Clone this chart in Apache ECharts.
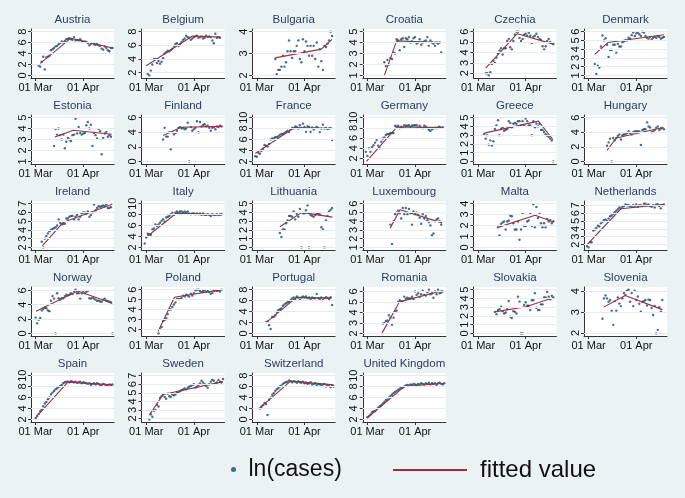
<!DOCTYPE html>
<html><head><meta charset="utf-8">
<script src="https://cdn.jsdelivr.net/npm/echarts@6/dist/echarts.min.js"></script>
<style>html,body{margin:0;padding:0;background:#eaf2f3}#c{width:685px;height:498px}</style>
</head><body><div id="c"></div>
<script>
// x axis: days since 01 Mar
const xTickVals = [0, 31];
const xTickLabels = ['01 Mar', '01 Apr'];

const countries = ['Austria','Belgium','Bulgaria','Croatia','Czechia','Denmark',
 'Estonia','Finland','France','Germany','Greece','Hungary',
 'Ireland','Italy','Lithuania','Luxembourg','Malta','Netherlands',
 'Norway','Poland','Portugal','Romania','Slovakia','Slovenia',
 'Spain','Sweden','Switzerland','United Kingdom'];

const austriaStart = 2;
const austriaVals = [1.8,1.6,2.5,3.4,1.1,3.3,3.4,3.6,4.6,4.8,5.0,5.3,5.4,5.7,5.9,6.2,6.0,6.3,6.6,6.7,6.8,6.6,6.5,7.0,6.4,6.5,6.4,6.6,6.3,6.1,6.2,6.1,5.9,5.5,5.8,5.9,5.7,5.6,5.7,5.5,5.4,4.9,4.7,5.3,5.0,4.6,4.4,5.0,5.0];
const austriaFit = [[3,2.2],[23,6.8],[50,5.0]];
const austriaTicks = [0,2,4,6,8];

const belgiumStart = 1;
const belgiumVals = [1.8,1.6,2.3,3.2,4.0,4.0,3.4,3.7,3.3,3.6,4.1,4.8,5.0,5.2,5.1,5.3,5.5,5.9,6.2,6.3,5.9,6.2,6.5,6.8,7.0,7.4,7.2,7.1,6.8,7.0,7.2,7.3,7.4,7.1,7.2,7.3,7.0,7.1,7.4,7.2,7.3,7.2,6.7,6.3,7.7,7.1,7.2,7.1];
const belgiumFit = [[0,3.0],[30,7.35],[48,7.2]];
const belgiumTicks = [2,4,6,8];

const bulgariaStart = 12;
const bulgariaVals = [2.75,2.05,2.25,2.25,2.4,2.9,2.4,2.6,3.1,3.6,3.1,2.8,3.1,3.1,3.35,3.6,2.75,2.6,3.65,3.1,3.55,3.35,2.9,3.35,2.9,3.35,2.75,3.5,2.4,3.2,2.65,2.25,3.35,3.3,3.45,3.6,4.0,3.8];
const bulgariaFit = [[12,2.8],[42,3.2],[49,3.65]];
const bulgariaTicks = [2,3,4];

const croatiaStart = 11;
const croatiaVals = [2.2,1.85,2.4,2.0,2.6,2.5,3.1,3.0,4.3,4.2,3.3,4.3,4.4,3.6,4.4,4.3,4.5,4.0,4.1,4.4,4.5,3.9,4.0,4.3,3.8,4.0,4.1,4.2,4.5,3.7,4.2,4.0,3.9,3.7,4.0,3.9,4.0,3.1];
const croatiaFit = [[11,1.0],[19,4.15],[48,4.0]];
const croatiaTicks = [1,2,3,4,5];

const czechiaStart = 5;
const czechiaVals = [2.0,2.0,1.8,2.1,2.9,3.2,3.0,3.5,3.9,4.2,4.4,3.8,4.4,4.4,5.1,5.3,4.5,4.3,5.1,5.7,6.0,6.0,5.4,5.1,5.3,5.7,5.8,5.6,5.9,5.6,4.9,5.5,5.6,5.8,5.5,5.3,5.2,4.6,4.3,4.6,5.1,5.3,5.0,4.9,4.8];
const czechiaFit = [[5,2.5],[25.5,5.8],[49,4.8]];
const czechiaTicks = [2,3,4,5,6];

const denmarkStart = 4;
const denmarkVals = [2.3,1.15,2.1,1.9,4.3,5.55,5.0,5.25,4.5,3.1,3.9,3.9,4.5,4.5,3.6,4.6,4.3,4.3,4.8,4.9,5.0,5.0,5.3,5.2,5.6,5.9,5.5,5.8,5.9,5.7,5.5,6.0,5.9,5.5,5.3,5.2,5.4,5.1,5.3,5.4,5.3,5.5,5.4,5.2,5.3,5.4];
const denmarkFit = [[4,3.4],[12.5,4.75],[49,5.65]];
const denmarkTicks = [1,2,3,4,5,6];

const estoniaStart = 12;
const estoniaVals = [2.4,3.95,3.45,4.0,3.4,3.0,3.45,2.2,2.8,3.15,3.0,2.85,3.4,3.45,4.9,3.55,4.15,3.6,3.45,3.55,3.6,4.3,4.6,4.0,4.35,2.4,3.6,3.4,3.1,3.95,3.75,1.65,3.15,3.55,3.7,3.25,3.4,3.25];
const estoniaFit = [[12.5,3.23],[24.5,3.85],[49.5,3.48]];
const estoniaTicks = [1,2,3,4,5];

const finlandStart = 11;
const finlandVals = [3.0,4.6,3.4,3.4,4.0,1.65,4.0,3.7,3.9,4.2,4.6,4.7,4.5,4.6,4.4,4.5,5.3,0,4.7,4.2,4.4,4.6,5.5,4.0,5.4,4.8,5.0,5.1,4.8,4.9,4.6,4.2,4.6,4.7,4.4,4.8,4.7,4.9,4.8];
const finlandFit = [[11,3.55],[22.7,4.67],[49.5,4.8]];
const finlandTicks = [0,2,4,6];

const franceStart = -1;
const franceVals = [2.95,2.85,3.6,3.4,3.9,4.3,5.0,4.85,4.7,5.2,6.0,6.2,6.2,6.4,6.4,6.6,6.85,7.0,7.0,7.2,7.4,7.6,7.35,7.85,8.1,8.0,8.4,8.3,8.0,8.6,8.1,8.9,8.3,7.4,8.4,8.3,7.4,8.2,7.85,8.1,8.3,8.1,7.35,8.0,8.7,8.0,8.1,7.9,8.0,8.1,5.9];
const franceFit = [[-1,3.45],[24.5,8.2],[49,8.0]];
const franceTicks = [2,4,6,8,10];

const germanyStart = -1;
const germanyVals = [3.3,2.5,4.0,3.3,4.2,4.6,5.1,5.6,4.5,4.0,5.3,5.9,6.1,6.6,6.8,6.8,7.0,7.0,7.0,8.4,8.2,8.4,7.9,8.2,8.05,8.5,8.4,8.4,8.5,8.2,8.4,8.5,8.5,8.5,8.05,8.4,8.05,7.9,8.4,8.2,7.9,7.6,7.4,7.7,7.9,8.05,7.9,8.1,8.2,8.0,8.1];
const germanyFit = [[-0.6,1.43],[19.3,8.18],[48.6,8.05]];
const germanyTicks = [2,4,6,8,10];

const greeceStart = 4;
const greeceVals = [3.1,2.6,3.0,1.9,2.4,1.8,2.3,3.7,4.1,4.7,3.0,3.7,3.9,3.5,3.6,3.7,4.6,4.4,3.9,4.3,4.4,4.3,4.6,4.6,4.1,4.6,4.1,4.9,4.6,4.1,4.1,3.0,4.6,3.9,4.3,4.0,4.3,3.6,3.6,3.35,3.1,2.95,2.8,2.6,2.4,0];
const greeceFit = [[4,3.23],[39.3,4.6],[48.7,2.5]];
const greeceTicks = [0,1,2,3,4,5];

const hungaryStart = 12;
const hungaryVals = [2.15,2.6,3.1,0,3.2,2.9,3.2,3.5,3.7,3.0,3.6,3.7,3.7,3.9,4.15,3.9,3.7,4.0,4.1,4.15,4.1,4.1,2.25,4.3,4.4,4.4,5.35,4.8,4.65,4.0,4.1,4.3,4.6,4.8,4.3,4.5,4.6,4.4];
const hungaryFit = [[12,1.5],[18,3.2],[48.5,4.65]];
const hungaryTicks = [0,2,4,6];

const irelandStart = 4;
const irelandVals = [2.64,2.0,3.0,3.3,3.6,3.84,4.0,4.1,4.2,4.3,4.5,5.2,4.8,4.64,4.7,4.7,5.3,5.3,5.5,5.6,5.6,5.2,5.5,5.7,5.2,5.5,5.9,6.0,6.0,5.84,6.1,5.5,5.7,6.0,6.9,6.24,6.5,6.7,6.64,6.7,6.8,6.7,6.9,6.5,6.5,6.6];
const irelandFit = [[4.5,2.2],[17.8,4.84],[49.9,6.92]];
const irelandTicks = [2,3,4,5,6,7];

const italyStart = -1;
const italyVals = [2.7,3.8,4.5,4.4,4.3,5.3,5.45,6.2,5.9,6.2,6.5,6.85,7.15,6.7,7.45,7.6,7.75,8.06,8.36,7.94,8.36,8.55,8.36,8.55,8.55,8.36,8.55,8.36,8.55,8.2,8.06,8.2,8.2,8.06,8.2,8.06,8.2,7.94,8.2,7.94,7.94,8.06,7.94,7.75,8.06,7.94,7.94,8.06,7.9,8.0,8.1];
const italyFit = [[-0.2,3.8],[19.5,8.24],[49.5,7.94]];
const italyTicks = [2,4,6,8,10];

const lithuaniaStart = 15;
const lithuaniaVals = [1.65,1.2,2.05,2.05,2.75,3.07,3.6,3.6,3.5,4.1,3.2,3.85,3.5,4.4,0,3.9,3.9,4.25,4.8,0,3.7,3.6,3.5,3.7,3.85,3.9,3.75,2.3,2.05,0,3.07,3.6,4.1,4.3,4.5];
const lithuaniaFit = [[15,2.36],[29.3,4.0],[49.2,3.46]];
const lithuaniaTicks = [0,1,2,3,4,5];

const luxembourgStart = 15;
const luxembourgVals = [3.6,1.4,4.0,4.8,5.0,5.2,4.9,4.3,5.5,4.8,5.5,4.8,5.4,4.9,3.6,5.1,4.8,5.0,4.7,4.4,3.7,4.8,4.3,4.6,4.1,3.9,3.5,2.4,2.6,4.0,4.2,4.3,4.0,3.6];
const luxembourgFit = [[14.8,3.2],[21.2,5.3],[48.6,3.8]];
const luxembourgTicks = [1,2,3,4,5,6];

const maltaStart = 13;
const maltaVals = [1.83,1.1,2.15,2.27,2.36,1.64,2.36,2.46,2.9,2.84,2.2,1.64,1.64,2.36,0.7,1.64,3.06,1.95,1.95,2.36,2.46,3.06,1.95,3.94,1.83,3.7,2.68,3.06,2.2,1.83,2.2,1.83,2.6,2.36,2.5,2.2,2.4];
const maltaFit = [[13,1.83],[37.2,2.93],[49.4,2.3]];
const maltaTicks = [0,1,2,3,4];

const netherlandsStart = -1;
const netherlandsVals = [1.8,1.65,2.3,2.3,3.8,3.9,4.1,4.4,4.3,4.7,4.9,5.1,5.2,5.0,5.3,5.6,5.7,5.9,6.1,6.3,6.5,6.7,6.6,6.8,6.9,7.1,7.0,7.0,6.9,6.8,7.0,6.9,7.1,6.8,7.0,7.0,6.9,7.2,7.2,7.0,7.1,6.9,6.8,7.0,6.7,7.1,7.1,6.9,6.6,7.0,7.1];
const netherlandsFit = [[-1,2.0],[21,6.55],[49,7.1]];
const netherlandsTicks = [2,3,4,5,6,7];

const norwayStart = 0;
const norwayVals = [2.2,1.4,1.9,2.15,3.2,3.4,3.6,3.5,3.2,3.1,4.55,5.2,4.85,0,5.6,4.9,4.7,4.9,4.9,5.2,5.4,5.3,5.4,5.6,5.5,5.9,6.1,5.6,5.6,4.85,5.6,5.9,5.6,5.8,5.9,4.9,4.85,5.0,4.85,4.7,4.55,4.55,4.45,4.4,4.7,4.85,4.6,4.5,4.4,4.3,0];
const norwayFit = [[0.2,3.1],[27.4,5.9],[49.9,4.2]];
const norwayTicks = [0,2,4,6];

const polandStart = 8;
const polandVals = [1.6,2.07,2.25,2.84,2.95,3.12,3.54,4.0,4.0,4.25,4.5,4.7,5.05,5.05,5.05,5.16,5.4,5.3,5.5,5.4,5.3,5.58,5.4,5.65,5.93,6.0,6.0,5.86,5.75,5.86,5.93,5.75,5.86,5.75,5.58,5.65,5.86,5.93,5.86,5.9,5.8,6.0];
const polandFit = [[7.7,1.8],[18.4,5.23],[49,6.0]];
const polandTicks = [2,3,4,5,6];

const portugalStart = 6;
const portugalVals = [2.06,2.2,1.5,0.8,3.0,3.0,3.3,3.9,4.25,4.4,4.56,5.06,5.3,5.5,5.7,5.8,6.1,6.4,6.56,6.3,6.75,6.56,6.1,6.56,6.75,6.56,6.75,6.44,6.56,6.3,6.56,6.44,6.44,7.2,6.44,6.3,6.56,6.1,6.44,6.6,6.5,6.3,6.6,5.2];
const portugalFit = [[6.4,2.06],[25.7,6.56],[48.6,6.44]];
const portugalTicks = [0,2,4,6,8];

const romaniaStart = 10;
const romaniaVals = [2.93,3.0,3.17,3.23,3.73,3.5,2.83,3.5,4.07,4.17,5.0,5.17,5.07,5.0,5.5,5.27,5.4,5.33,5.33,5.5,5.27,6.0,5.67,5.83,5.5,5.73,6.07,5.67,5.6,5.93,6.17,5.73,5.83,5.4,6.0,5.73,6.17,5.83,5.9,6.0];
const romaniaFit = [[9.4,2.0],[20.8,5.0],[48.6,6.07]];
const romaniaTicks = [2,3,4,5,6];

const slovakiaStart = 11;
const slovakiaVals = [2.46,2.2,2.66,2.77,3.05,2.54,2.27,2.38,2.77,3.7,1.9,1.76,2.54,2.46,2.27,4.2,3.63,0,0,3.24,3.55,3.16,3.16,2.66,3.8,3.8,4.6,2.93,2.66,2.66,3.32,3.32,4.1,4.1,4.73,4.2,3.9,4.3,4.1];
const slovakiaFit = [[10.8,2.46],[31.2,3.05],[49.4,4.1]];
const slovakiaTicks = [0,1,2,3,4,5];

const sloveniaStart = 9;
const sloveniaVals = [2.68,3.66,3.8,3.66,3.5,3.58,3.07,2.39,3.53,3.07,3.7,3.41,3.29,3.66,3.92,3.83,4.03,4.08,3.5,3.92,3.29,4.03,3.58,3.75,3.4,3.02,3.5,3.53,3.58,3.32,3.6,3.58,3.2,2.86,3.3,1.98,2.15,3.24,3.02,3.58];
const sloveniaFit = [[9.8,3.24],[23.8,3.8],[48,3.12]];
const sloveniaTicks = [2,3,4];

const spainStart = 0;
const spainVals = [2.2,2.6,3.0,3.5,3.8,4.4,4.9,5.2,5.7,6.0,6.6,6.9,7.2,7.5,7.7,7.9,8.1,8.3,8.6,8.8,8.9,8.9,8.8,9.0,8.9,8.8,8.9,8.7,8.8,8.9,8.6,8.8,8.7,8.6,8.5,8.6,8.3,8.5,8.6,8.4,8.6,8.5,8.2,8.3,8.5,8.4,8.3,8.1,8.4,8.3,8.4];
const spainFit = [[0,2.3],[21,8.8],[50,8.3]];
const spainTicks = [2,4,6,8,10];

const swedenStart = 2;
const swedenVals = [1.9,2.5,2.2,2.9,3.0,3.6,3.4,4.4,4.6,4.8,4.5,4.3,4.9,4.6,4.5,4.8,4.7,4.8,5.1,5.0,5.2,5.3,5.4,5.5,5.4,5.6,5.7,5.8,5.9,6.0,5.6,5.7,5.9,6.1,6.4,6.2,6.0,5.8,5.6,6.0,6.3,6.5,6.4,6.1,6.2,6.5,6.3,6.2,6.6];
const swedenFit = [[2,2.4],[11,4.8],[50,6.3]];
const swedenTicks = [2,3,4,5,6,7];

const switzerlandStart = 2;
const switzerlandVals = [2.0,2.3,2.6,3.0,2.8,0.8,3.6,4.0,4.5,4.8,5.2,5.5,5.7,6.0,6.2,6.5,6.7,6.8,6.9,7.1,7.0,6.8,7.0,6.9,6.7,7.0,6.8,6.7,6.9,6.6,6.7,6.5,6.6,6.8,6.4,6.5,6.6,6.3,6.5,6.4,6.2,6.4,6.5,6.0,6.3,6.1,5.9,6.2,6.0];
const switzerlandFit = [[2,2.1],[22,7.0],[50,6.3]];
const switzerlandTicks = [0,2,4,6,8];

const ukStart = 0;
const ukVals = [2.4,2.6,2.9,3.3,3.5,3.5,3.9,4.1,4.4,4.6,4.9,5.2,5.5,5.6,6.0,6.3,6.5,6.8,7.0,7.2,7.4,7.6,7.8,7.8,8.0,8.2,8.3,8.2,8.4,8.3,8.5,8.4,8.3,8.5,8.4,8.6,8.5,8.4,8.6,8.5,8.7,8.4,8.6,8.5,8.6,8.3,8.6,8.7,8.5,8.4,8.6];
const ukFit = [[0,2.3],[24,8.0],[50,8.6]];
const ukTicks = [2,4,6,8,10];

const table = [
 [austriaStart,austriaVals,austriaFit,austriaTicks],
 [belgiumStart,belgiumVals,belgiumFit,belgiumTicks],
 [bulgariaStart,bulgariaVals,bulgariaFit,bulgariaTicks],
 [croatiaStart,croatiaVals,croatiaFit,croatiaTicks],
 [czechiaStart,czechiaVals,czechiaFit,czechiaTicks],
 [denmarkStart,denmarkVals,denmarkFit,denmarkTicks],
 [estoniaStart,estoniaVals,estoniaFit,estoniaTicks],
 [finlandStart,finlandVals,finlandFit,finlandTicks],
 [franceStart,franceVals,franceFit,franceTicks],
 [germanyStart,germanyVals,germanyFit,germanyTicks],
 [greeceStart,greeceVals,greeceFit,greeceTicks],
 [hungaryStart,hungaryVals,hungaryFit,hungaryTicks],
 [irelandStart,irelandVals,irelandFit,irelandTicks],
 [italyStart,italyVals,italyFit,italyTicks],
 [lithuaniaStart,lithuaniaVals,lithuaniaFit,lithuaniaTicks],
 [luxembourgStart,luxembourgVals,luxembourgFit,luxembourgTicks],
 [maltaStart,maltaVals,maltaFit,maltaTicks],
 [netherlandsStart,netherlandsVals,netherlandsFit,netherlandsTicks],
 [norwayStart,norwayVals,norwayFit,norwayTicks],
 [polandStart,polandVals,polandFit,polandTicks],
 [portugalStart,portugalVals,portugalFit,portugalTicks],
 [romaniaStart,romaniaVals,romaniaFit,romaniaTicks],
 [slovakiaStart,slovakiaVals,slovakiaFit,slovakiaTicks],
 [sloveniaStart,sloveniaVals,sloveniaFit,sloveniaTicks],
 [spainStart,spainVals,spainFit,spainTicks],
 [swedenStart,swedenVals,swedenFit,swedenTicks],
 [switzerlandStart,switzerlandVals,switzerlandFit,switzerlandTicks],
 [ukStart,ukVals,ukFit,ukTicks]
];

// layout
const COLS = 6, LEFT0 = 31, PITCHX = 110.6, PW = 83, TOP0 = 29, PITCHY = 86, PH = 49;
const FONT = 'Liberation Sans';
const NAVY = '#1a476f', MAROON = '#90353b', AXIS = '#333333', GRIDC = '#e4ecee';

const grids = [], xAxes = [], yAxes = [], series = [], titles = [];
countries.forEach((name, i) => {
  const [start, vals, fit, ticks] = table[i];
  const c = i % COLS, r = Math.floor(i / COLS);
  const left = LEFT0 + c * PITCHX, top = TOP0 + r * PITCHY;
  grids.push({left: left, top: top, width: PW, height: PH, show: true, backgroundColor: '#ffffff', borderWidth: 0});
  const pts = vals.map((v, k) => [start + k, v]);
  const dmin = Math.min(...vals, ...fit.map(p => p[1]), ticks[0]);
  const dmax = Math.max(...vals, ...fit.map(p => p[1]), ticks[ticks.length - 1]);
  const pad = (dmax - dmin) * 0.06;
  xAxes.push({gridIndex: i, type: 'value', min: -3, max: 51,
    axisLine: {show: true, onZero: false, lineStyle: {color: AXIS, width: 1}},
    axisTick: {show: true, length: 3, customValues: xTickVals, lineStyle: {color: AXIS}},
    axisLabel: {customValues: xTickVals, formatter: v => xTickLabels[xTickVals.indexOf(v)], fontSize: 11, color: '#111', margin: 4, fontFamily: FONT},
    splitLine: {show: false}});
  yAxes.push({gridIndex: i, type: 'value', min: dmin - pad, max: dmax + pad,
    axisLine: {show: true, onZero: false, lineStyle: {color: AXIS, width: 1}},
    axisTick: {show: true, length: 3, customValues: ticks, lineStyle: {color: AXIS}},
    axisLabel: {customValues: ticks, rotate: 90, fontSize: 11, color: '#111', margin: 3, fontFamily: FONT, formatter: v => String(v)},
    splitLine: {show: false}});
  series.push({type: 'line', xAxisIndex: i, yAxisIndex: i, data: [], z: 1, silent: true,
    markLine: {silent: true, symbol: ['none', 'none'], label: {show: false}, animation: false,
      lineStyle: {color: GRIDC, width: 1, type: 'solid'}, data: ticks.map(t => ({yAxis: t}))}});
  series.push({name: 'ln(cases)', type: 'scatter', xAxisIndex: i, yAxisIndex: i, data: pts,
    symbol: 'circle', symbolSize: 2.4, itemStyle: {color: NAVY}, z: 3});
  series.push({name: 'fitted value', type: 'line', xAxisIndex: i, yAxisIndex: i, data: fit,
    symbol: 'none', showSymbol: false, lineStyle: {color: MAROON, width: 1.1}, itemStyle: {color: MAROON}, z: 4});
  titles.push({text: name, left: left + PW / 2, top: top - 15, textAlign: 'center', padding: 0,
    textStyle: {fontSize: 11.5, fontWeight: 'normal', color: '#2b3d60', fontFamily: FONT}});
});

const chart = echarts.init(document.getElementById('c'), null, {renderer: 'canvas'});
chart.setOption({
  backgroundColor: '#eaf2f3',
  animation: false,
  title: titles,
  grid: grids,
  xAxis: xAxes,
  yAxis: yAxes,
  legend: [
    {data: [{name: 'ln(cases)', icon: 'circle'}], left: 231, top: 458, itemWidth: 20, itemHeight: 5, padding: 0,
     textStyle: {fontSize: 23, color: '#111', fontFamily: FONT}},
    {data: [{name: 'fitted value', icon: 'rect', itemStyle: {color: MAROON}}], left: 393, top: 458, itemWidth: 74, itemHeight: 2, padding: 0,
     textStyle: {fontSize: 24, color: '#111', fontFamily: FONT, padding: [0, 0, 0, 8]}}
  ],
  series: series
});
</script></body></html>
